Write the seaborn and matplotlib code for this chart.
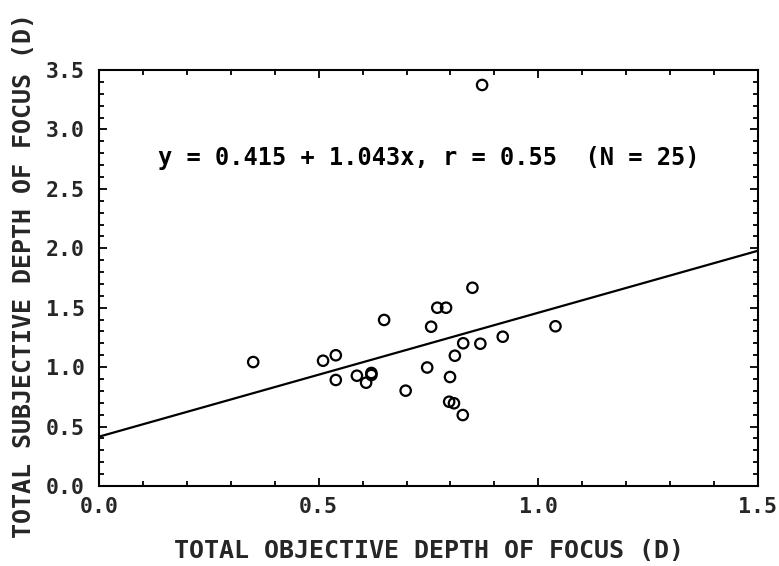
import numpy as np
import pandas as pd
import matplotlib
matplotlib.use("Agg")
import matplotlib.pyplot as plt
from matplotlib.ticker import MultipleLocator, FormatStrFormatter
import seaborn as sns

# Total objective vs. total subjective depth of focus, one point per subject (D)
objective_dof = [0.351, 0.510, 0.539, 0.649, 0.539, 0.587, 0.620, 0.620, 0.608,
                 0.698, 0.747, 0.756, 0.770, 0.790, 0.850, 0.872, 1.039, 0.919,
                 0.829, 0.868, 0.810, 0.799, 0.797, 0.808, 0.828]
subjective_dof = [1.043, 1.054, 1.100, 1.397, 0.892, 0.928, 0.951, 0.934, 0.869,
                  0.802, 0.997, 1.340, 1.500, 1.500, 1.668, 3.374, 1.344, 1.256,
                  1.201, 1.197, 1.096, 0.917, 0.709, 0.696, 0.597]

# Least-squares fit reported on the chart
intercept = 0.415
slope = 1.043
r_value = 0.55

x_limits = [0.0, 1.5]
y_limits = [0.0, 3.5]
x_ticks = [0.0, 0.5, 1.0, 1.5]
y_ticks = [0.0, 0.5, 1.0, 1.5, 2.0, 2.5, 3.0, 3.5]

df = pd.DataFrame({"objective": objective_dof, "subjective": subjective_dof})

sns.set_style("ticks")
plt.rcParams["font.family"] = ["DejaVu Sans Mono", "DejaVu Sans"]
plt.rcParams["font.weight"] = "bold"

W, H = 779, 566
fig = plt.figure(figsize=(W / 100, H / 100), dpi=100)
left, right, top, bottom = 99, 758, 70, 486
ax = fig.add_axes([left / W, 1 - bottom / H, (right - left) / W, (bottom - top) / H])

# Fitted line across the full x range
fit_x = np.array(x_limits)
fit_df = pd.DataFrame({"objective": fit_x, "subjective": intercept + slope * fit_x})
sns.lineplot(data=fit_df, x="objective", y="subjective", ax=ax,
             color="black", linewidth=1.6)

sns.scatterplot(data=df, x="objective", y="subjective", ax=ax,
                s=56, marker="o", edgecolor="black", linewidth=1.6)
ax.collections[-1].set_facecolor("none")

ax.set_xlim(x_limits)
ax.set_ylim(y_limits)
ax.set_xticks(x_ticks)
ax.set_yticks(y_ticks)
ax.xaxis.set_minor_locator(MultipleLocator(0.1))
ax.yaxis.set_minor_locator(MultipleLocator(0.1))
ax.xaxis.set_major_formatter(FormatStrFormatter("%.1f"))
ax.yaxis.set_major_formatter(FormatStrFormatter("%.1f"))

for side in ["left", "right", "top", "bottom"]:
    ax.spines[side].set_visible(True)
    ax.spines[side].set_linewidth(1.5)
    ax.spines[side].set_color("black")

ax.tick_params(which="both", direction="in", top=True, right=True,
               color="black", width=1.3)
ax.tick_params(which="major", length=5.5)
ax.tick_params(which="minor", length=3.8)
ax.tick_params(axis="x", which="major", labelsize=15.5, pad=8)
ax.tick_params(axis="y", which="major", labelsize=15.5, pad=10)
for lab in ax.get_xticklabels() + ax.get_yticklabels():
    lab.set_fontweight("bold")

ax.set_xlabel("TOTAL OBJECTIVE DEPTH OF FOCUS (D)", fontsize=18, fontweight="bold")
ax.set_ylabel("TOTAL SUBJECTIVE DEPTH OF FOCUS (D)", fontsize=18, fontweight="bold")
ax.xaxis.set_label_coords(0.5, (486 - 539) / 416)
ax.yaxis.set_label_coords((36 - 99) / 659, 0.505)

ax.text(0.5, 0.788,
        f"y = {intercept:.3f} + {slope:.3f}x, r = {r_value:.2f}  (N = {len(objective_dof)})",
        transform=ax.transAxes, ha="center", va="center",
        fontsize=17, fontweight="bold", color="black")

fig.savefig("out.png", dpi=100, facecolor="white")
